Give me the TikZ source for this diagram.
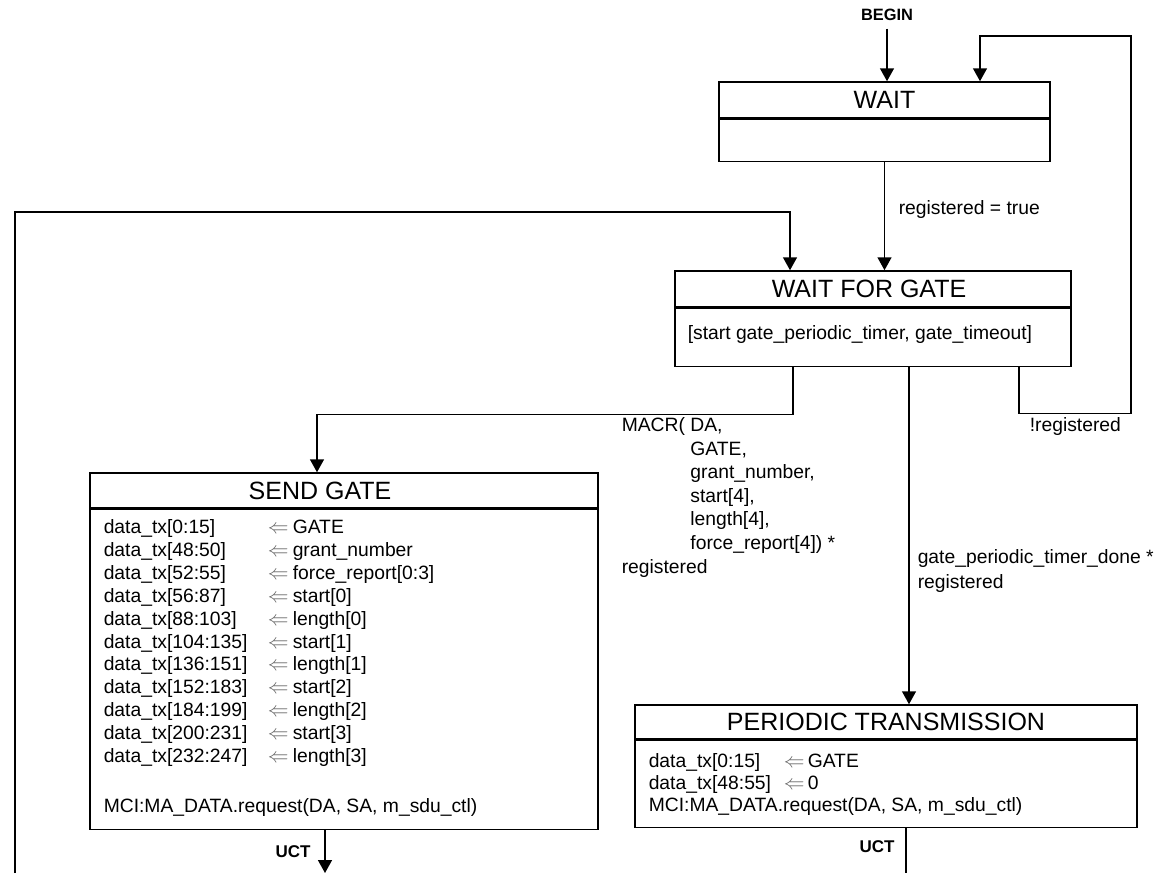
\documentclass[tikz,border=0pt]{standalone}
\usepackage{fontspec}
\setmainfont{Liberation Sans}
\usepackage{tikz}
\usetikzlibrary{arrows.meta, positioning, calc}

\newcommand\bodysize{\fontsize{19.3}{22.9}\selectfont}
\newcommand\titlesize{\fontsize{25}{30}\selectfont}

\begin{document}
\begin{tikzpicture}[
    x=1pt, y=-1pt,
    >={Triangle[width=14pt,length=13pt]},
    line width=1.5pt,
    titlebox/.style={rectangle, draw, inner sep=0pt, font=\titlesize,
                     minimum height=36pt},
    bodybox/.style={rectangle, draw, inner sep=0pt, anchor=north},
    txt/.style={font=\bodysize, inner sep=0pt, anchor=base west},
    gets/.style={txt, text=black!60},
    cond/.style={inner sep=0pt, anchor=base west, align=left},
    uct/.style={font=\fontsize{17}{20}\selectfont\bfseries, inner sep=0pt}
]
\useasboundingbox (0,0) rectangle (1156,873);

% States: a title part and a body part each.
\node[titlebox, minimum width=331pt] (wait) at (884.5,100) {WAIT};
\node[bodybox, minimum width=331pt, minimum height=42pt] (waitbody) at (wait.south) {};

\node[titlebox, minimum width=396pt] (wfg) at (873,289) {\hspace*{-8pt}WAIT FOR GATE};
\node[bodybox, minimum width=396pt, minimum height=58pt] (wfgbody) at (wfg.south) {};
\node[txt] (wfgtxt) at (687,339.5) {[start gate\_periodic\_timer, gate\_timeout]};

\node[titlebox, minimum width=508pt, minimum height=35pt] (send) at (344,490.5) {\hspace*{-48pt}SEND GATE};
\node[bodybox, minimum width=508pt, minimum height=320pt] (sendbody) at (send.south) {};

\node[titlebox, minimum width=502pt, minimum height=34pt] (periodic) at (886,722) {PERIODIC TRANSMISSION};
\node[bodybox, minimum width=502pt, minimum height=87pt] (periodicbody) at (periodic.south) {};

% Frame fields filled in by SEND GATE.
\foreach \bits/\field [count=\i from 0] in {0:15/GATE, 48:50/grant\_number,
    52:55/force\_report[0:3], 56:87/start[0], 88:103/length[0], 104:135/start[1],
    136:151/length[1], 152:183/start[2], 184:199/length[2], 200:231/start[3],
    232:247/length[3]} {
    \node[txt] (sendl\i) at (103,{533.5+22.9*\i}) {data\_tx[\bits]};
    \node[gets] (senda\i) at (267,{533.5+22.9*\i}) {$\Leftarrow$};
    \node[txt] (sendr\i) at (292,{533.5+22.9*\i}) {\field};
}
\node[txt] (sendmci) at (103,812.5) {MCI:MA\_DATA.request(DA, SA, m\_sdu\_ctl)};

% Fields filled in by PERIODIC TRANSMISSION.
\foreach \bits/\field [count=\i from 0] in {0:15/GATE, 48:55/0} {
    \node[txt] (perl\i) at (648,{767.5+22*\i}) {data\_tx[\bits]};
    \node[gets] (pera\i) at (783,{767.5+22*\i}) {$\Leftarrow$};
    \node[txt] (perr\i) at (807,{767.5+22*\i}) {\field};
}
\node[txt] (permci) at (648,811.5) {MCI:MA\_DATA.request(DA, SA, m\_sdu\_ctl)};

% Transition conditions.
\node[font=\fontsize{16.4}{20}\selectfont\bfseries, inner sep=0pt] (begin) at (887,15) {BEGIN};
\node[txt] (lblreg) at (898,214.5) {registered = true};
\node[cond, font=\fontsize{19.3}{23.6}\selectfont] (lblmacr) at (621,431.5)
    {\begin{tabular}[t]{@{}l@{\hspace{5.4pt}}l@{}}
     MACR( & DA,\\
           & GATE,\\
           & grant\_number,\\
           & start[4],\\
           & length[4],\\
           & force\_report[4]) *\\
     \multicolumn{2}{@{}l@{}}{registered}
     \end{tabular}};
\node[txt] (lblnreg) at (1029,431.5) {!registered};
\node[cond, font=\fontsize{19.3}{25}\selectfont] (lbltimer) at (917,563.5)
    {\begin{tabular}[t]{@{}l@{}}gate\_periodic\_timer\_done *\\registered\end{tabular}};
\node[uct] (uctsend) at (293,852) {UCT};
\node[uct] (uctper) at (877,847) {UCT};

\coordinate (rloop) at (1131,36);
\coordinate (lloop) at (15,873);
\coordinate (sendout) at (325,873);
\coordinate (perout) at (906,873);

% Connectors.
\draw[->] ([yshift=-7pt]begin.south) -- (begin.south |- wait.north);
\draw[->] (waitbody.south) -- (waitbody.south |- wfg.north);
\draw[->] ([xshift=146pt]wfgbody.south) -- ++(0,46) -| (rloop) -| ([xshift=95.5pt]wait.north);
\draw[->] (lloop) -- ++(0,-661) -| ([xshift=-83pt]wfg.north);
\draw[->] ([xshift=-80pt]wfgbody.south) -- ++(0,47) -| ([xshift=-27pt]send.north);
\draw[->] ([xshift=36pt]wfgbody.south) -- ([xshift=36pt]wfgbody.south |- periodic.north);
\draw[->] ([xshift=-19pt]sendbody.south) -- (sendout);
\draw (perout |- periodicbody.south) -- (perout);
\end{tikzpicture}
\end{document}
